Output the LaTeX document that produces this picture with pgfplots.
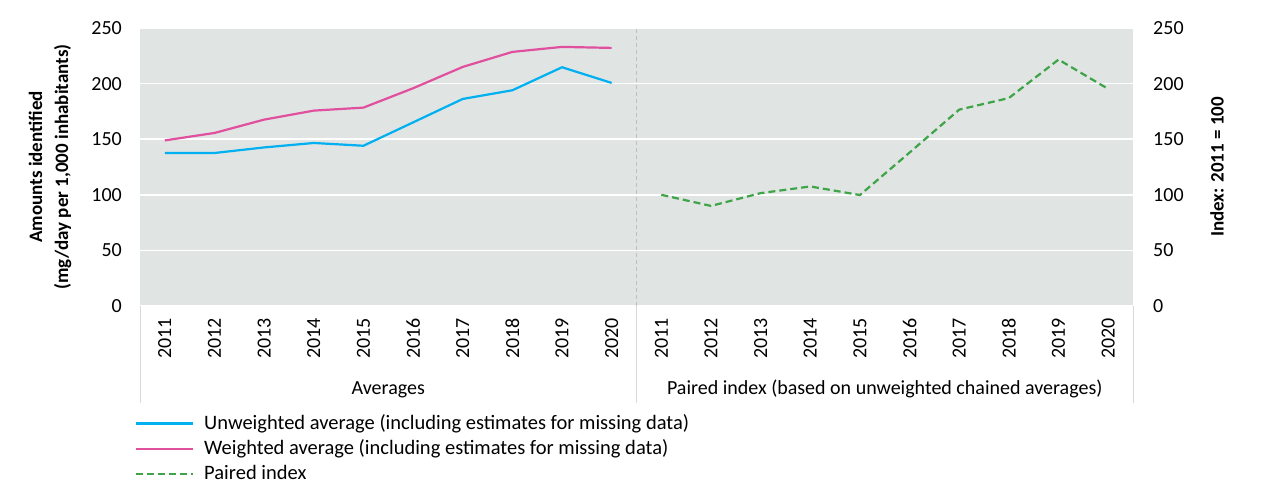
\documentclass[border=0pt]{standalone}
\usepackage{pgfplots}
\pgfplotsset{compat=1.18}
\usepackage{fontspec}
\setmainfont{Carlito}
\definecolor{bggray}{HTML}{E0E4E3}
\definecolor{cblue}{HTML}{00B0F0}
\definecolor{cpink}{HTML}{E0509E}
\definecolor{cgreen}{HTML}{3DA447}
\definecolor{sepgray}{HTML}{BFBFBF}
\definecolor{linegray}{HTML}{D9D9D9}
\begin{document}
\fontsize{20bp}{24bp}\selectfont
\begin{tikzpicture}
\useasboundingbox (0,0) rectangle (1281bp,487bp);
\begin{axis}[
  at={(140bp,181bp)}, anchor=south west,
  scale only axis, width=993bp, height=278bp,
  xmin=0.5, xmax=20.5, ymin=0, ymax=250,
  axis line style={draw=none},
  axis background/.style={fill=bggray},
  xtick={1,...,20},
  xticklabels={2011,2012,2013,2014,2015,2016,2017,2018,2019,2020,2011,2012,2013,2014,2015,2016,2017,2018,2019,2020},
  xticklabel style={yshift=-12bp, rotate=90, anchor=east, inner sep=0pt},
  ytick={0,50,...,250},
  ymajorgrids, major grid style={white, line width=1.5bp},
  major tick length=0pt,
  tick label style={font=\fontsize{20bp}{24bp}\selectfont},
  /pgf/number format/assume math mode=true,
  yticklabel style={inner sep=0pt, xshift=-18bp, anchor=east},
  ylabel={\textbf{Amounts identified}\\\textbf{(mg/day per 1,000 inhabitants)}},
  ylabel style={align=center, at={(axis description cs:-0.0906,0.5)}, anchor=center, font=\fontsize{19bp}{26bp}\selectfont},
  clip=false,
  legend style={draw=none, fill=none, at={(-0.005,-0.39)}, anchor=north west, inner sep=0pt, outer sep=0pt,
    font=\fontsize{20.5bp}{24bp}\selectfont, row sep=7.5bp, nodes={inner xsep=10bp, inner ysep=0bp}},
  legend cell align=left,
  legend image code/.code={\draw[#1] (0,0) -- (57bp,0);},
]
\addplot[cblue, line width=2.2bp] coordinates {(1,137.6) (2,137.6) (3,142.6) (4,146.6) (5,144.1) (6,165.1) (7,186.2) (8,194) (9,214.7) (10,200.6)};
\addlegendentry{Unweighted average (including estimates for missing data)}
\addplot[cpink, line width=2.2bp] coordinates {(1,148.9) (2,155.6) (3,167.6) (4,175.7) (5,178.4) (6,195.8) (7,215) (8,228.5) (9,233) (10,232.1)};
\addlegendentry{Weighted average (including estimates for missing data)}
\addplot[cgreen, line width=2.2bp, dash pattern=on 7bp off 4bp] coordinates {(11,100) (12,90) (13,101.5) (14,107.5) (15,99.8) (16,138) (17,176.6) (18,187) (19,221.6) (20,195.2)};
\addlegendentry{Paired index}
\draw[sepgray, line width=0.75bp, dash pattern=on 4bp off 3bp] (rel axis cs:0.5,0) -- (rel axis cs:0.5,1);
\draw[linegray, line width=0.75bp] (rel axis cs:0,0) -- (rel axis cs:0,-0.349);
\draw[linegray, line width=0.75bp] (rel axis cs:0.5,0) -- (rel axis cs:0.5,-0.349);
\draw[linegray, line width=0.75bp] (rel axis cs:1,0) -- (rel axis cs:1,-0.349);
\node at (rel axis cs:0.25,-0.3) {Averages};
\node at (rel axis cs:0.75,-0.3) {Paired index (based on unweighted chained averages)};
\end{axis}
\begin{axis}[
  at={(140bp,181bp)}, anchor=south west,
  scale only axis, width=993bp, height=278bp,
  xmin=0.5, xmax=20.5, ymin=0, ymax=250,
  axis line style={draw=none},
  hide x axis,
  axis y line*=right,
  ytick={0,50,...,250},
  major tick length=0pt,
  tick label style={font=\fontsize{20bp}{24bp}\selectfont},
  /pgf/number format/assume math mode=true,
  yticklabel style={inner sep=0pt, xshift=20bp, anchor=west},
  ylabel={\textbf{Index: 2011 = 100}},
  ylabel style={at={(axis description cs:1.0846,0.5)}, anchor=center, rotate=0, font=\fontsize{19bp}{24bp}\selectfont},
]
\end{axis}
\end{tikzpicture}
\end{document}
